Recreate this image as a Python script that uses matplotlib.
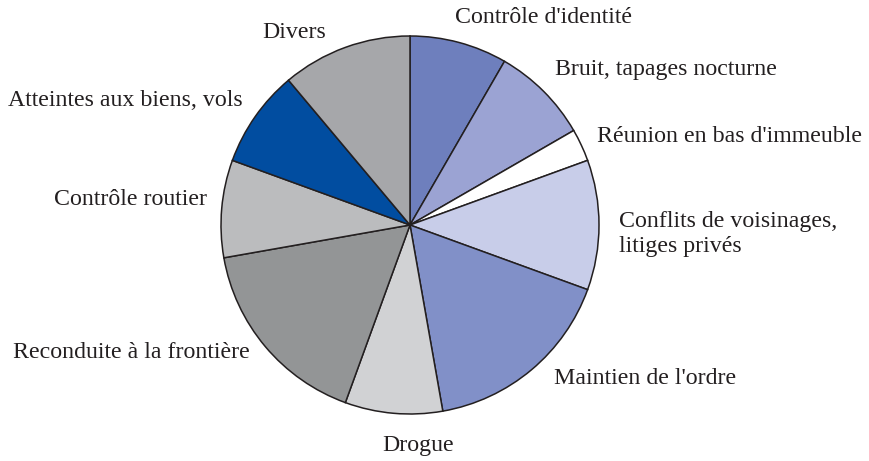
import matplotlib
matplotlib.use("Agg")
import matplotlib.pyplot as plt

# Répartition des interventions (nombre de cas)
categories = [
    "Contrôle d'identité",
    "Bruit, tapages nocturne",
    "Réunion en bas d'immeuble",
    "Conflits de voisinages,\nlitiges privés",
    "Maintien de l'ordre",
    "Drogue",
    "Reconduite à la frontière",
    "Contrôle routier",
    "Atteintes aux biens, vols",
    "Divers",
]
counts = [3, 3, 1, 4, 6, 3, 6, 3, 3, 4]
colors = ["#6E7FBD", "#9BA3D3", "#FFFFFF", "#C8CDE9", "#8190C8",
          "#D1D2D4", "#939596", "#BBBCBE", "#014DA0", "#A6A7AA"]

# position des étiquettes en pixels (x, y, alignement)
label_pos = [
    (455, 17, "left"),
    (555, 69, "left"),
    (597, 136, "left"),
    (619, 234, "left"),
    (554, 379, "left"),
    (418, 446, "center"),
    (250, 353, "right"),
    (207, 199, "right"),
    (243, 100, "right"),
    (326, 32, "right"),
]

W, H = 870, 461
cx, cy, R = 410, 225, 189

fig = plt.figure(figsize=(W / 100, H / 100), dpi=100)
ax = fig.add_axes([0, 0, 1, 1])

ax.pie(counts, colors=colors, startangle=90, counterclock=False,
       radius=1, center=(0, 0),
       wedgeprops=dict(edgecolor="#231F20", linewidth=1.1))

for lab, (px, py, ha) in zip(categories, label_pos):
    ax.text((px - cx) / R, (cy - py) / R, lab, ha=ha, va="center",
            fontsize=17.2, family="Liberation Serif", color="#231F20",
            linespacing=1.2)

ax.set_xlim(-cx / R, (W - cx) / R)
ax.set_ylim(-(H - cy) / R, cy / R)
ax.set_aspect("equal")
ax.axis("off")

fig.savefig("out.png", dpi=100)
